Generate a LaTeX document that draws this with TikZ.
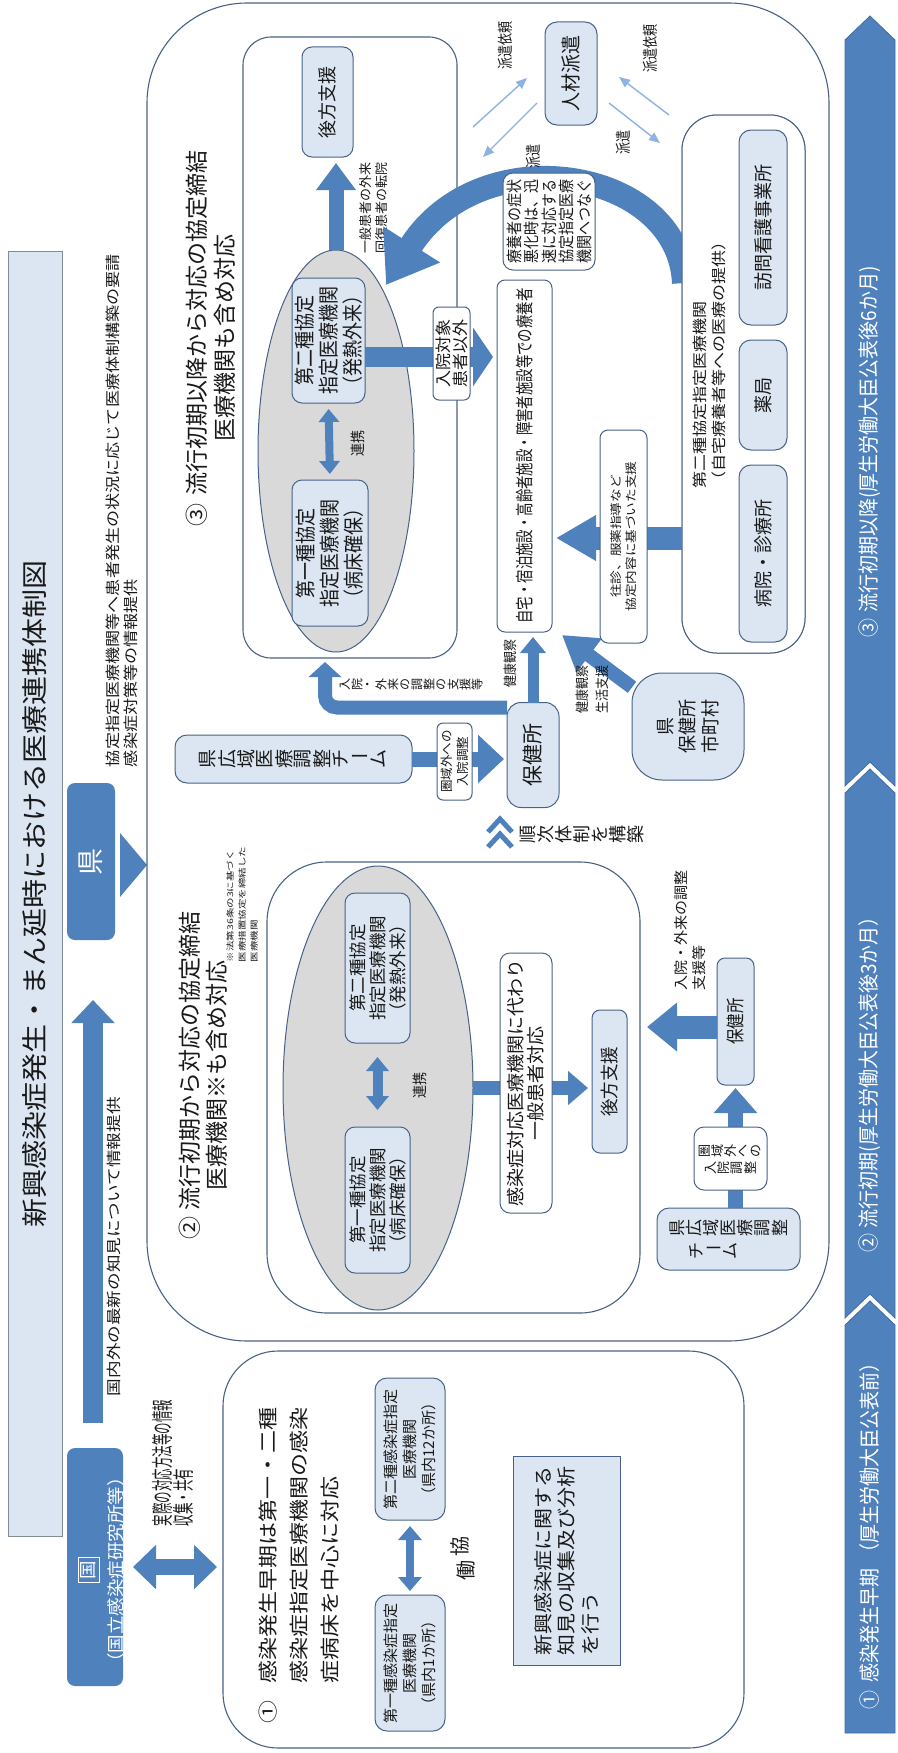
\documentclass[tikz,border=0pt]{standalone}
\usepackage{fontspec}
\setmainfont{Noto Sans CJK JP}
\usepackage{graphicx}
\usetikzlibrary{arrows.meta,shapes.geometric,calc}
\definecolor{arrowC}{RGB}{79,129,189}
\definecolor{lightC}{RGB}{220,230,242}
\definecolor{boxC}{RGB}{72,98,135}
\definecolor{ellC}{RGB}{217,217,217}
\definecolor{thinC}{RGB}{141,179,226}
\definecolor{titleB}{RGB}{130,140,150}
\definecolor{barC}{RGB}{65,110,160}
\definecolor{txtC}{RGB}{25,25,25}
\makeatletter
\newcommand\RTbox[3]{\vbox{\baselineskip=#2pt\lineskiplimit=-\maxdimen\lineskip=0pt
  \if c#1\def\RT@pre{\hfil}\else\def\RT@pre{}\fi
  \let\\\cr
  \halign{\RT@pre##\hfil\cr#3\crcr}}}
\makeatother
% rotated text: size, vertical scale, skip, align, lines
\newcommand\RT[5]{\rotatebox{90}{\scalebox{1}[#2]{\fontsize{#1}{#3}\selectfont\RTbox{#4}{#3}{#5}}}}
% sideways vertical writing: first char x, y, size, char list, name prefix
\newcommand\tgline[5]{%
  \foreach \ch [count=\i from 0] in {#4} {%
    \expandafter\ifx\ch ー%
      \node[font=\fontsize{#3}{#3}\selectfont] (#5-\i) at ({#1+\i*#3},#2) {\ch};
    \else
      \node[rotate=90, font=\fontsize{#3}{#3}\selectfont] (#5-\i) at ({#1+\i*#3},#2) {\ch};
    \fi}}
\tikzset{
  every node/.style={inner sep=0pt, outer sep=0pt, text=txtC},
  wh/.style 2 args={minimum width=#1, minimum height=#2},
  region/.style={draw=boxC, line width=1.1pt, fill=white},
  lbox/.style={draw=boxC, line width=1pt, fill=lightC},
  wbox/.style={draw=boxC, line width=1pt, fill=white},
  ellbox/.style={ellipse, draw=boxC, line width=1pt, fill=ellC},
  blk/.style={draw=arrowC, line width=#1},
  thinarr/.style={draw=thinC, line width=1.4pt, -{Triangle[width=9pt,length=11pt]}},
  bar/.style={fill=arrowC, draw=barC, line width=0.8pt},
}
\begin{document}
\begin{tikzpicture}[x=1pt,y=-1pt]
\useasboundingbox (0,0) rectangle (897,1753);
\fill[white] (0,0) rectangle (897,1753);

% ---------- left column ----------
\node[draw=titleB, fill=lightC, line width=1pt, wh={54}{1285}] (title) at (35,893.5)
  {\RT{29}{0.9}{34}{c}{新興感染症発生・まん延時における医療連携体制図}};
\node[fill=arrowC, rounded corners=8, wh={56}{238}] (kuni) at (95,1567) {};
\node[text=white] (kunit) at (101,1570) {\RT{18.5}{0.95}{29.5}{c}{\fbox{国}\\（国立感染症研究所等）}};
\node[fill=arrowC, rounded corners=8, wh={48}{157}, text=white] (ken) at (91,861.5) {\RT{27}{1}{30}{c}{県}};
\fill[arrowC] (120,833) -- (147,865) -- (120,897) -- cycle;
\node[anchor=south] (kentext) at (122,767)
  {\RT{17.1}{0.87}{20.7}{l}{協定指定医療機関等へ患者発生の状況に応じて医療体制構築の要請\\感染症対策等の情報提供}};
\draw[blk=20, -{Triangle[width=42pt,length=23pt]}] ([xshift=-2pt,yshift=25pt]kuni.north) -- ([xshift=2pt,yshift=-60pt]ken.south);
\node[anchor=south] (kokunai) at (113.5,1396) {\RT{17.6}{0.84}{20}{l}{国内外の最新の知見について情報提供}};
\node[anchor=south] (jissai) at (172.5,1526) {\RT{11.5}{1.9}{11}{l}{実際の対応方法等の情報\\収集・共有}};

% ---------- timeline bar ----------
\path[bar] (845,40) -- (870,16) -- (895,40) -- (895,786) -- (870,762) -- (845,786) -- cycle;
\path[bar] (845,793) -- (870,769) -- (895,793) -- (895,1318) -- (870,1294) -- (845,1318) -- cycle;
\path[bar] (845,1325) -- (870,1301) -- (895,1325) -- (895,1733) -- (845,1733) -- cycle;
\node[text=white] (tl1) at (870,1531) {\RT{19}{1.1}{20}{c}{①\hspace{8pt}感染発生早期\hspace{6pt}（厚生労働大臣公表前）}};
\node[text=white] (tl2) at (870,1080) {\RT{19}{1.1}{20}{c}{②\hspace{6pt}流行初期(厚生労働大臣公表後3か月）}};
\node[text=white] (tl3) at (870,452) {\RT{19}{1.1}{20}{c}{③\hspace{6pt}流行初期以降(厚生労働大臣公表後6か月)}};

% ---------- regions ----------
\node[region, rounded corners=100, wh={682}{1338}] (reg23) at (488,672) {};
\node[region, rounded corners=55, wh={521}{397}] (reg1) at (483.5,1549.5) {};
\node[region, rounded corners=28, wh={214}{621}] (in3) at (350,347.5) {};
\node[region, rounded corners=60, wh={373}{451}] (in2) at (453.5,1087.5) {};
\node[ellbox, wh={156}{402}] (ell3) at (336,451) {};
\node[ellbox, wh={190}{444}] (ell2) at (378,1088) {};

% ---------- region titles ----------
\node (t3title) at (211,338) {\RT{23}{1}{28}{c}{③\hspace{8pt}流行初期以降から対応の協定締結\\医療機関も含め対応}};
\node (t2title) at (203.5,1075) {\RT{23}{1}{27}{c}{②\hspace{6pt}流行初期から対応の協定締結\\医療機関※も含め対応}};
\node[anchor=south] (note2) at (242,962) {\RT{10.5}{0.75}{16}{l}{※法第36条の3に基づく\\医療措置協定を締結した\\医療機関}};
\node[anchor=south] (t1title) at (299,1723) {\RT{23}{0.85}{36.5}{l}{①\hspace{17pt}感染発生早期は第一・二種\\\hspace{40pt}感染症指定医療機関の感染\\\hspace{40pt}症病床を中心に対応}};

% ---------- region 3 ----------
\node[lbox, rounded corners=10, wh={73}{125}] (b2nd3) at (328.5,340.5) {\RT{18}{1.15}{21}{c}{第二種協定\\指定医療機関\\（発熱外来）}};
\node[lbox, rounded corners=10, wh={76}{146}] (b1st3) at (330,553) {\RT{18}{1.15}{21}{c}{第一種協定\\指定医療機関\\（病床確保）}};
\draw[blk=8, {Triangle[width=20pt,length=13pt]}-{Triangle[width=20pt,length=13pt]}, shorten <=6pt, shorten >=6pt] (b2nd3.south) -- (b1st3.north);
\node (renkei3) at (358,443) {\RT{13}{1.15}{14}{c}{連携}};
\node[lbox, rounded corners=10, wh={51}{110}] (kobo3) at (327.5,102) {\RT{18}{1.05}{20}{c}{後方支援}};
\draw[blk=15, -{Triangle[width=38pt,length=27pt]}, shorten >=6pt] (ell3.north) -- (ell3.north |- kobo3.south);
\node[anchor=south] (ippan) at (374,253) {\RT{13}{1}{16}{l}{一般患者の外来\\回復患者の転院}};

\node[wbox, rounded corners=35, wh={123}{538}] (dai2) at (743.5,384) {};
\draw[blk=24, -{Triangle[width=64pt,length=48pt]}] ([xshift=2pt,yshift=101pt]dai2.west) .. controls +(-5,-115) and +(95,-150) .. ([xshift=50pt,yshift=166pt]ell3.center);
\node[wbox, rounded corners=35, wh={123}{538}] (dai2b) at (743.5,384) {};
\node[anchor=south] (dai2t) at (709.5,488) {\RT{17}{0.87}{21.8}{l}{第二種協定指定医療機関\\（自宅療養者等への医療の提供）}};
\node[lbox, rounded corners=12, wh={48}{177}] (byoin) at (763,553.5) {\RT{18}{1.05}{20}{c}{病院・診療所}};
\node[lbox, rounded corners=12, wh={48}{110}] (yakkyoku) at (763,395) {\RT{18}{1.05}{20}{c}{薬局}};
\node[lbox, rounded corners=12, wh={48}{195}] (houmon) at (763,227.5) {\RT{18}{1.05}{20}{c}{訪問看護事業所}};

\node[wbox, rounded corners=10, wh={92}{97}] (ryoyo) at (549,221.5) {\RT{14}{1.15}{15.2}{l}{療養者の症状\\悪化時は、迅\\速に対応する\\協定指定医療\\機関へつなぐ}};

\node[wbox, rounded corners=8, wh={55}{352}] (jitaku) at (524.5,456) {\RT{13.4}{1.35}{14}{c}{自宅・宿泊施設・高齢者施設・障害者施設等での療養者}};
\coordinate (a3s) at ([yshift=-16.5pt]b2nd3.east);
\draw[blk=20, -{Triangle[width=58pt,length=20pt]}, shorten >=4pt] (a3s) -- (a3s -| jitaku.west);
\node[wbox, rounded corners=6, wh={37}{93}] (nyuin) at (451.5,353.5) {\RT{17}{0.95}{17.9}{c}{入院対象\\患者以外}};

\coordinate (a5) at ([yshift=-154pt]dai2.west);
\draw[blk=23, -{Triangle[width=43pt,length=40pt]}, shorten >=4pt] (a5) -- (a5 -| jitaku.east);
\node[wbox, rounded corners=8, wh={47}{213}] (oushin) at (623.5,536.5) {\RT{13.6}{0.85}{17.6}{c}{往診、服薬指導など\\協定内容に基づいた支援}};

\node[lbox, rounded corners=14, wh={52}{105}] (hoken3) at (533,755) {\RT{21}{1}{22}{c}{保健所}};
\draw[blk=11, -{Triangle[width=25pt,length=16pt]}, shorten >=5pt] (hoken3.north) -- (hoken3.north |- jitaku.south);
\node (kenko3) at (510,663) {\RT{12}{1.15}{14}{c}{健康観察}};
\coordinate (L1) at ([yshift=-5pt]hoken3.north west);
\coordinate (L2) at ([xshift=-5pt]b1st3.south);
\draw[blk=14, rounded corners=12, -{Triangle[width=32pt,length=15pt]}, shorten >=4pt] (L1) -- (L1 -| L2) -- (L2 |- in3.south);
\tgline{345}{684}{12}{入,院,・,外,来,の,調,整,の,支,援,等}{nyugai3}

\node[lbox, rounded corners=12, wh={237}{48}] (kendo3) at (293.5,759) {};
\tgline{208}{759}{19}{県,広,域,医,療,調,整,チ,ー,ム}{kendo3t}
\draw[blk=15, -{Triangle[width=47pt,length=26pt]}, shorten >=3pt] (kendo3.east) -- (kendo3.east -| hoken3.west);
\node[wbox, rounded corners=6, wh={35}{77}] (kengai3) at (454.5,761.5) {\RT{12.5}{1}{16}{c}{圏域外への\\入院調整}};

\node[lbox, rounded corners=30, wh={112}{107}] (kensho) at (688,726.5) {\RT{18}{1.05}{21.4}{c}{県\\保健所\\市町村}};
\draw[blk=14, -{Triangle[width=40pt,length=34pt]}] (kensho.145) -- ([xshift=10pt,yshift=-3pt]jitaku.south east);
\node[anchor=south] (kenko2) at (592,713) {\RT{12}{1.15}{17.4}{l}{健康観察\\生活支援}};

\node[lbox, rounded corners=12, wh={52}{103}] (jinzai) at (571,73.5) {\RT{19}{1.05}{20}{c}{人材派遣}};
\coordinate (h1a) at (473,127); \coordinate (h1b) at (527,78);
\coordinate (h2a) at (537,103); \coordinate (h2b) at (483,157);
\coordinate (h3a) at (669,115); \coordinate (h3b) at (619,77);
\coordinate (h4a) at (609,103); \coordinate (h4b) at (660,143);
\draw[thinarr] (h1a) -- (h1b);
\draw[thinarr] (h2a) -- (h2b);
\draw[thinarr] (h3a) -- (h3b);
\draw[thinarr] (h4a) -- (h4b);
\node (haken1) at (505,46) {\RT{12}{1.3}{12}{c}{派遣依頼}};
\node (haken2) at (533,156) {\RT{12}{1.3}{12}{c}{派遣}};
\node (haken3) at (650,49) {\RT{12}{1.3}{12}{c}{派遣依頼}};
\node (haken4) at (623,142) {\RT{12}{1.3}{12}{c}{派遣}};

\draw[arrowC, line width=5pt] (488,832) -- (500,819) -- (512,832);
\draw[arrowC, line width=5pt] (488,847) -- (500,834) -- (512,847);
\tgline{528}{834}{18}{順,次,体,制,を,構,築}{junji}

% ---------- region 2 ----------
\node[lbox, rounded corners=10, wh={65}{150}] (b2nd2) at (377.5,968) {\RT{17.5}{1}{20}{c}{第二種協定\\指定医療機関\\（発熱外来）}};
\node[lbox, rounded corners=10, wh={65}{146}] (b1st2) at (377.5,1200) {\RT{17.5}{1}{20}{c}{第一種協定\\指定医療機関\\（病床確保）}};
\draw[blk=10, {Triangle[width=22pt,length=14pt]}-{Triangle[width=22pt,length=14pt]}, shorten <=14pt, shorten >=17pt] (b2nd2.south) -- (b1st2.north);
\node (renkei2) at (420,1085) {\RT{13}{1.15}{14}{c}{連携}};
\node[lbox, rounded corners=8, wh={35}{143}] (kobo2) at (609.5,1081.5) {\RT{17.5}{1.05}{18}{c}{後方支援}};
\draw[blk=14, -{Triangle[width=33pt,length=20pt]}, shorten >=4pt] (ell2.east) -- (ell2.east -| kobo2.west);
\node[wbox, rounded corners=10, wh={52}{260}] (kansen2) at (526,1083) {\RT{19}{0.95}{21}{c}{感染症対応医療機関に代わり\\一般患者対応}};
\node[lbox, rounded corners=8, wh={37}{127}] (hoken2) at (735.5,1021.5) {\RT{15.5}{1.2}{16}{c}{保健所}};
\coordinate (a6) at ([yshift=-5.5pt]hoken2.west);
\draw[blk=23, -{Triangle[width=47pt,length=30pt]}, shorten >=20pt] (a6) -- (a6 -| kobo2.east);
\node[anchor=south] (nyugai2) at (690,990) {\RT{15}{0.95}{19}{l}{入院・外来の調整\\支援等}};
\node[lbox, rounded corners=12, wh={143}{62}] (kendo2) at (728.5,1239) {};
\tgline{677.5}{1228}{17}{県,広,域,医,療,調,整}{kendo2a}
\tgline{696.5}{1251}{17}{チ,ー,ム}{kendo2b}
\draw[blk=15, -{Triangle[width=42pt,length=25pt]}, shorten >=3pt] (hoken2.south |- kendo2.north) -- (hoken2.south);
\node[wbox, rounded corners=10, wh={73}{63}] (kengai2) at (730.5,1158.5) {};
\tgline{704.5}{1151}{13}{圏,域,外,へ,の}{kengai2a}
\tgline{711}{1168}{13}{入,院,調,整}{kengai2b}

% ---------- region 1 ----------
\node[lbox, rounded corners=12, wh={70}{136}] (dai1k) at (410,1663) {\RT{15}{1}{19}{c}{第一種感染症指定\\医療機関\\（県内1か所）}};
\node[lbox, rounded corners=12, wh={70}{142}] (dai2k) at (410,1449) {\RT{15}{1}{19}{c}{第二種感染症指定\\医療機関\\（県内12か所）}};
\draw[blk=8, {Triangle[width=23pt,length=14pt]}-{Triangle[width=23pt,length=14pt]}, shorten <=6pt, shorten >=4pt] (dai2k.south) -- (dai1k.north);
\tgline{460}{1546}{20}{協}{kyodoA}
\tgline{466}{1570}{20}{働}{kyodoB}
\node[lbox, wh={107}{209}] (shinko) at (566.5,1560.5) {\RT{21}{0.9}{26.1}{l}{新興感染症に関する\\知見の収集及び分析\\を行う}};

\coordinate (d1) at ([xshift=10pt]kuni.east);
\draw[blk=16, {Triangle[width=43pt,length=23pt]}-{Triangle[width=43pt,length=23pt]}, shorten >=6pt] (d1) -- (d1 -| reg1.west);
\end{tikzpicture}
\end{document}
